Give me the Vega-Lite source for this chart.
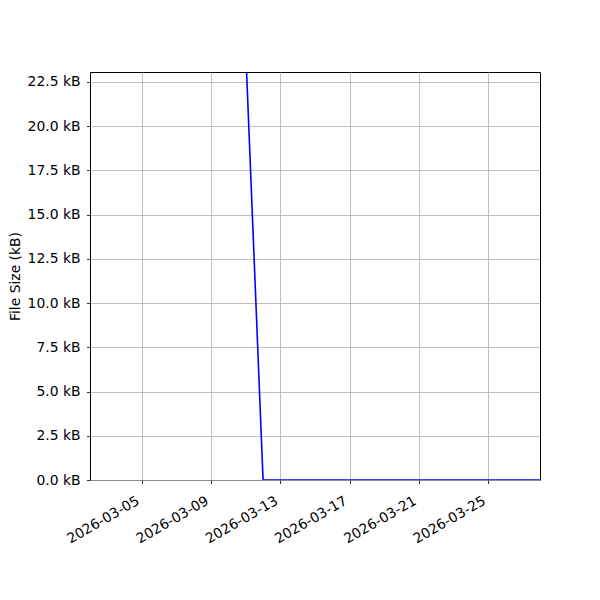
{
  "$schema": "https://vega.github.io/schema/vega-lite/v6.json",
  "width": 450,
  "height": 408,
  "autosize": {"type": "none"},
  "padding": {"left": 90, "top": 72, "right": 60, "bottom": 120},
  "background": "white",
  "config": {
    "view": {"stroke": "black", "strokeWidth": 1},
    "font": "DejaVu Sans",
    "axis": {
      "labelFont": "DejaVu Sans",
      "titleFont": "DejaVu Sans",
      "labelFontSize": 13.9,
      "titleFontSize": 13.9,
      "titleFontWeight": "normal",
      "labelColor": "black",
      "titleColor": "black",
      "tickColor": "black",
      "tickSize": 3.5,
      "tickWidth": 0.8,
      "domain": false,
      "gridColor": "#b0b0b0",
      "gridWidth": 0.8,
      "labelPadding": 6.5
    }
  },
  "data": {
    "values": [
      {"date": "2026-03-11", "size_kb": 24.2},
      {"date": "2026-03-12", "size_kb": 0},
      {"date": "2026-03-13", "size_kb": 0},
      {"date": "2026-03-14", "size_kb": 0},
      {"date": "2026-03-15", "size_kb": 0},
      {"date": "2026-03-16", "size_kb": 0},
      {"date": "2026-03-17", "size_kb": 0},
      {"date": "2026-03-18", "size_kb": 0},
      {"date": "2026-03-19", "size_kb": 0},
      {"date": "2026-03-20", "size_kb": 0},
      {"date": "2026-03-21", "size_kb": 0},
      {"date": "2026-03-22", "size_kb": 0},
      {"date": "2026-03-23", "size_kb": 0},
      {"date": "2026-03-24", "size_kb": 0},
      {"date": "2026-03-25", "size_kb": 0},
      {"date": "2026-03-26", "size_kb": 0},
      {"date": "2026-03-27", "size_kb": 0},
      {"date": "2026-03-28", "size_kb": 0}
    ]
  },
  "mark": {"type": "line", "color": "#0000ff", "strokeWidth": 1.6, "clip": true},
  "encoding": {
    "x": {
      "field": "date",
      "type": "temporal",
      "scale": {
        "type": "utc",
        "domain": [
          {"year": 2026, "month": 3, "date": 2, "utc": true},
          {"year": 2026, "month": 3, "date": 28, "utc": true}
        ]
      },
      "axis": {
        "title": null,
        "labelExpr": "utcFormat(datum.value, '%Y-%m-%d')",
        "values": [
          {"year": 2026, "month": 3, "date": 5, "utc": true},
          {"year": 2026, "month": 3, "date": 9, "utc": true},
          {"year": 2026, "month": 3, "date": 13, "utc": true},
          {"year": 2026, "month": 3, "date": 17, "utc": true},
          {"year": 2026, "month": 3, "date": 21, "utc": true},
          {"year": 2026, "month": 3, "date": 25, "utc": true}
        ],
        "labelAngle": -30,
        "labelAlign": "right",
        "labelBaseline": "middle",
        "labelPadding": 16,
        "labelOffset": -4,
        "labelFlush": false,
        "labelOverlap": false
      }
    },
    "y": {
      "field": "size_kb",
      "type": "quantitative",
      "scale": {"domain": [0, 23.06], "nice": false, "zero": true},
      "axis": {
        "title": "File Size (kB)",
        "values": [0, 2.5, 5, 7.5, 10, 12.5, 15, 17.5, 20, 22.5],
        "labelExpr": "format(datum.value, '.1f') + ' kB'",
        "titlePadding": 5,
        "labelFlush": false,
        "labelOverlap": false
      }
    }
  }
}
